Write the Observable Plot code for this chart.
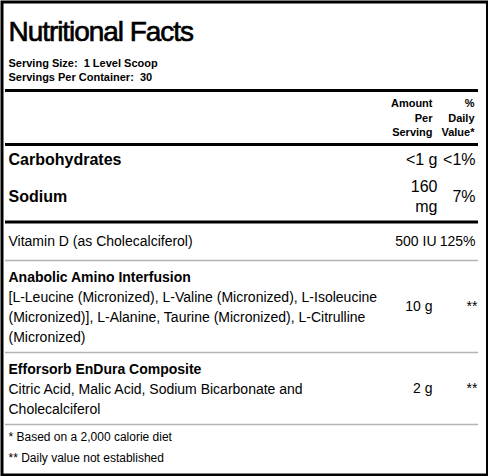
<!DOCTYPE html>
<html><head><meta charset="utf-8">
<script src="https://cdn.jsdelivr.net/npm/d3@7"></script>
<script src="https://cdn.jsdelivr.net/npm/@observablehq/plot@0.6"></script>
<style>html,body{margin:0;padding:0;background:#fff;} svg{display:block;}</style>
</head><body><div id="chart"></div>
<script>
// ---- data ----
const title = "Nutritional Facts";
const servingLabels = ["Serving Size:", "Servings Per Container:"];
const servingValues = ["1 Level Scoop", "30"];
const headerAmount = ["Amount", "Per", "Serving"];
const headerDailyValue = ["%", "Daily", "Value*"];
const mainNutrients = ["Carbohydrates", "Sodium"];
const mainAmounts = [["<1 g"], ["160", "mg"]];
const mainDailyValues = ["<1%", "7%"];
const vitamins = ["Vitamin D (as Cholecalciferol)"];
const vitaminAmounts = ["500 IU"];
const vitaminDailyValues = ["125%"];
const blends = ["Anabolic Amino Interfusion", "Efforsorb EnDura Composite"];
const blendIngredients = [
  ["[L-Leucine (Micronized), L-Valine (Micronized), L-Isoleucine",
   "(Micronized)], L-Alanine, Taurine (Micronized), L-Citrulline",
   "(Micronized)"],
  ["Citric Acid, Malic Acid, Sodium Bicarbonate and",
   "Cholecalciferol"]
];
const blendAmounts = ["10 g", "2 g"];
const blendDailyValues = ["**", "**"];
const footnotes = ["* Based on a 2,000 calorie diet", "** Daily value not established"];

// ---- layout (table geometry) ----
const W = 488, H = 476;
const col = {name: 8, header: 432, main: 437, vitamin: 436, blend: 432, dv: 475, star: 477};
const texts = [];
const thickRules = [], thinRules = [];
const add = (x, y, text, anchor, size, bold) => texts.push({x, y, text, anchor, size, bold});

add(col.name, 32, title, "start", 28, false);
servingLabels.forEach((l, i) => add(col.name, 63 + 14 * i, l + "\u00a0\u00a0" + servingValues[i], "start", 11, true));
thickRules.push(90);
headerAmount.forEach((t, i) => add(col.header, 103 + 14.5 * i, t, "end", 11, true));
headerDailyValue.forEach((t, i) => add(col.dv - 1, 103 + 14.5 * i, t, "end", 11, true));
thickRules.push(144);

let cursor = 146;
mainNutrients.forEach((n, i) => {
  const lines = mainAmounts[i].length;
  const h = 7 + 20 * lines;
  const c = cursor + h / 2;
  add(col.name, c, n, "start", 16, true);
  mainAmounts[i].forEach((a, j) => add(col.main, c - 10 * (lines - 1) + 20 * j, a, "end", 16, false));
  add(col.dv, c, mainDailyValues[i], "end", 16, false);
  cursor += h;
});
thickRules.push(cursor + 1.5);
cursor += 3;
vitamins.forEach((v, i) => {
  const h = 36, c = cursor + h / 2;
  add(col.name, c, v, "start", 14, false);
  add(col.vitamin, c, vitaminAmounts[i], "end", 14, false);
  add(col.dv, c, vitaminDailyValues[i], "end", 14, false);
  cursor += h;
  thinRules.push(cursor + 1);
  cursor += 2;
});
blends.forEach((b, i) => {
  const ing = blendIngredients[i];
  const h = 16.5 + 20 * ing.length + 14;
  add(col.name, cursor + 16.5, b, "start", 14, true);
  ing.forEach((t, j) => add(col.name, cursor + 16.5 + 20 * (j + 1), t, "start", 14, false));
  const c = cursor + h / 2;
  add(col.blend, c, blendAmounts[i], "end", 14, false);
  add(col.star, c, blendDailyValues[i], "end", 14, false);
  cursor += h;
  thinRules.push(cursor + 0.5);
  cursor += 1.5;
});
footnotes.forEach((f, i) => add(col.name, cursor + 12 + 21 * i, f, "start", 12, false));

const font = "'Liberation Sans', Arial, Helvetica, sans-serif";
const textMark = (anchor, bold) => Plot.text(texts.filter(d => d.anchor === anchor && d.bold === bold), {
  x: "x", y: "y", text: "text", textAnchor: anchor, fontSize: d => d.size,
  fontWeight: bold ? "bold" : "normal", fontFamily: font, fill: "black", lineAnchor: "middle"
});

const chart = Plot.plot({
  width: W, height: H, margin: 0,
  x: {type: "identity", axis: null},
  y: {type: "identity", axis: null},
  style: {background: "white", fontFamily: font},
  marks: [
    Plot.ruleY(thinRules, {y: d => d, x1: 5, x2: 478, stroke: "#b4b4b4", strokeWidth: 1.5}),
    Plot.ruleY(thickRules, {y: d => d, x1: 5, x2: 478, stroke: "black", strokeWidth: 3}),
    textMark("start", false), textMark("start", true),
    textMark("end", false), textMark("end", true),
    Plot.frame({stroke: "black", strokeWidth: 3, insetLeft: 1.5, insetTop: 1.5, insetBottom: 1.5, insetRight: 1})
  ]
});
d3.select(chart).selectAll("text").filter(function () { return this.textContent === title; })
  .style("letter-spacing", "-1.05px").style("stroke", "black").style("stroke-width", "0.65px");
document.getElementById("chart").appendChild(chart);
</script>
</body></html>
